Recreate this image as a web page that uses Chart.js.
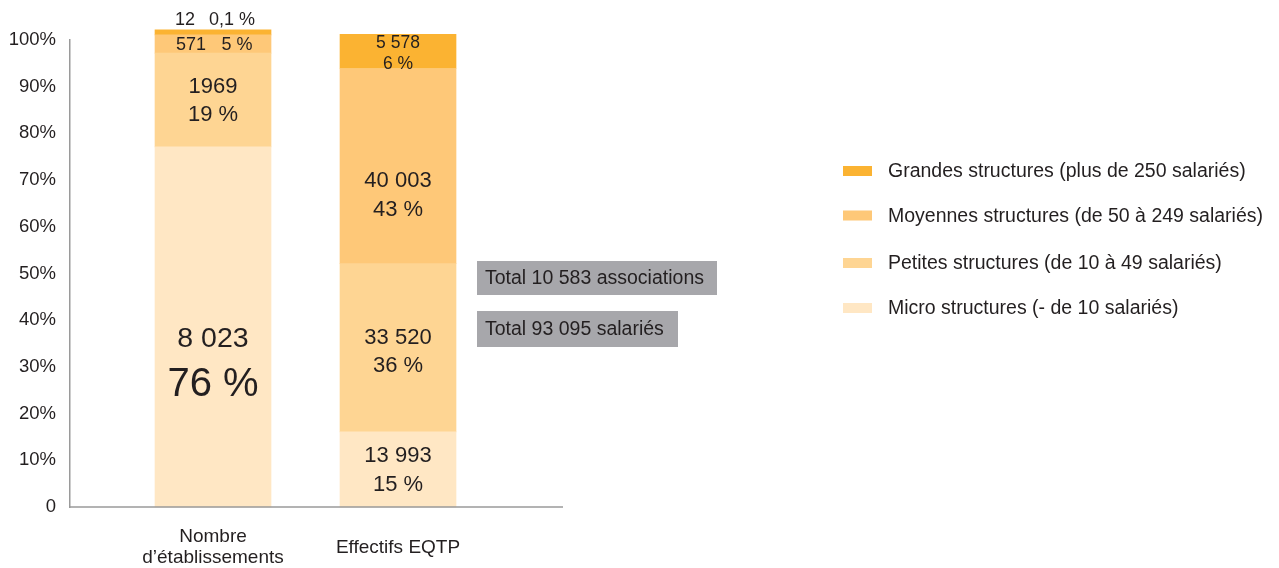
<!DOCTYPE html>
<html>
<head>
<meta charset="utf-8">
<script src="https://cdn.jsdelivr.net/npm/chart.js@4.4.1/dist/chart.umd.min.js"></script>
<style>
  html, body { margin: 0; padding: 0; background: #fff; }
  #wrap { width: 1279px; height: 568px; }
</style>
</head>
<body>
<div id="wrap"><canvas id="chart"></canvas></div>
<script>
// données (hauteurs en % de l'axe)
const categories = [['Nombre', 'd’établissements'], 'Effectifs EQTP'];
const seriesNames = [
  'Micro structures (- de 10 salariés)',
  'Petites structures (de 10 à 49 salariés)',
  'Moyennes structures (de 50 à 249 salariés)',
  'Grandes structures (plus de 250 salariés)'
];
const micro = [77.1, 16.1];
const petites = [20.1, 36.0];
const moyennes = [3.9, 41.8];
const grandes = [1.1, 7.3];

const microLabels = [['8 023', '76 %'], ['13 993', '15 %']];
const petitesLabels = [['1969', '19 %'], ['33 520', '36 %']];
const moyennesLabels = [['571', '5 %'], ['40 003', '43 %']];
const grandesLabels = [['12', '0,1 %'], ['5 578', '6 %']];

const yTicks = [0, 10, 20, 30, 40, 50, 60, 70, 80, 90, 100];
const totals = ['Total 10 583 associations', 'Total 93 095 salariés'];

const colors = ['#ffe7c4', '#fed593', '#fec878', '#fbb332'];
const FONT = '"Liberation Sans", Arial, sans-serif';
const TEXT = '#231f20';

Chart.defaults.font.family = FONT;
Chart.defaults.color = TEXT;

// placement des étiquettes dans les segments : [taille, dx, dy] par ligne
const labelStyle = [
  [ [[28.5, 0, 12], [40, 0, 58]], [[22, 0, -13], [22, 0, 16]] ],
  [ [[22, 0, -13], [22, 0, 15]], [[22, 0, -10], [22, 0, 18]] ],
  [ [[18, -22, 1], [18, 24, 1]], [[22, 0, 15], [22, 0, 44]] ],
  [ [[18, -28, -12], [18, 19, -12]], [[17.5, 0, -8], [17.5, 0, 13]] ]
];
const allLabels = [microLabels, petitesLabels, moyennesLabels, grandesLabels];

const barLabels = {
  id: 'barLabels',
  afterDatasetsDraw(chart) {
    const ctx = chart.ctx;
    ctx.save();
    ctx.fillStyle = TEXT;
    ctx.textAlign = 'center';
    ctx.textBaseline = 'middle';
    chart.data.datasets.forEach((ds, i) => {
      chart.getDatasetMeta(i).data.forEach((el, j) => {
        const mid = (el.y + el.base) / 2;
        allLabels[i][j].forEach((txt, k) => {
          const [size, dx, dy] = labelStyle[i][j][k];
          ctx.font = size + 'px ' + FONT;
          ctx.fillText(txt, el.x + dx, mid + dy);
        });
      });
    });
    ctx.restore();
  }
};

// axe horizontal, qui s'arrête avant les encadrés
const baseLine = {
  id: 'baseLine',
  afterDatasetsDraw(chart) {
    const { ctx, chartArea, scales } = chart;
    ctx.save();
    ctx.strokeStyle = '#9a9a9a';
    ctx.lineWidth = 1.5;
    ctx.beginPath();
    ctx.moveTo(chartArea.left - 0.75, chartArea.bottom);
    ctx.lineTo(scales.x.getPixelForValue(2.892), chartArea.bottom);
    ctx.stroke();
    ctx.restore();
  }
};

const totalBoxes = {
  id: 'totalBoxes',
  afterDraw(chart) {
    const ctx = chart.ctx;
    const boxes = [[477, 261, 240, 34], [477, 311, 201, 36]];
    ctx.save();
    ctx.font = '19.5px ' + FONT;
    ctx.textBaseline = 'middle';
    totals.forEach((t, i) => {
      const [x, y, w, h] = boxes[i];
      ctx.fillStyle = '#a7a7ab';
      ctx.fillRect(x, y, w, h);
      ctx.fillStyle = TEXT;
      ctx.fillText(t, x + 8, y + h / 2 + 1);
    });
    ctx.restore();
  }
};

const sideLegend = {
  id: 'sideLegend',
  afterDraw(chart) {
    const ctx = chart.ctx;
    const rows = [171, 215.5, 263, 308];
    const items = chart.data.datasets.slice().reverse();
    ctx.save();
    ctx.font = '19.5px ' + FONT;
    ctx.textBaseline = 'middle';
    items.forEach((ds, i) => {
      ctx.fillStyle = ds.backgroundColor;
      ctx.fillRect(843, rows[i] - 5, 29, 10);
      ctx.fillStyle = TEXT;
      ctx.fillText(ds.label, 888, rows[i] + 1);
    });
    ctx.restore();
  }
};

const series = [micro, petites, moyennes, grandes];

new Chart(document.getElementById('chart'), {
  type: 'bar',
  data: {
    datasets: series.map((vals, i) => ({
      label: seriesNames[i],
      data: vals.map((v, j) => ({ x: j + 1, y: v })),
      backgroundColor: colors[i],
      borderWidth: 0,
      barThickness: 116,
      clip: false
    }))
  },
  options: {
    responsive: true,
    maintainAspectRatio: false,
    animation: false,
    layout: { padding: { top: 40, left: 0, right: 0, bottom: 0 } },
    scales: {
      x: {
        type: 'linear',
        stacked: true,
        min: 0.227,
        max: 6.762,
        offset: false,
        grid: { display: false },
        border: { display: false },
        afterBuildTicks: (s) => { s.ticks = [{ value: 1 }, { value: 2 }]; },
        afterFit: (s) => { s.height = 61; },
        ticks: {
          callback: (v) => categories[v - 1],
          font: { size: 19, lineHeight: 1.1 },
          crossAlign: 'center',
          padding: 22,
          maxRotation: 0,
          autoSkip: false
        }
      },
      y: {
        stacked: true,
        min: 0,
        max: 100,
        grid: { display: false, drawTicks: false },
        border: { color: '#9a9a9a', width: 1.5 },
        afterBuildTicks: (s) => { s.ticks = yTicks.map(v => ({ value: v })); },
        afterFit: (s) => { s.width = 70; },
        ticks: {
          callback: (v) => v === 0 ? '0' : v + '%',
          font: { size: 18.5 },
          padding: 14
        }
      }
    },
    plugins: {
      legend: { display: false },
      tooltip: { enabled: false }
    }
  },
  plugins: [barLabels, baseLine, totalBoxes, sideLegend]
});
</script>
</body>
</html>
